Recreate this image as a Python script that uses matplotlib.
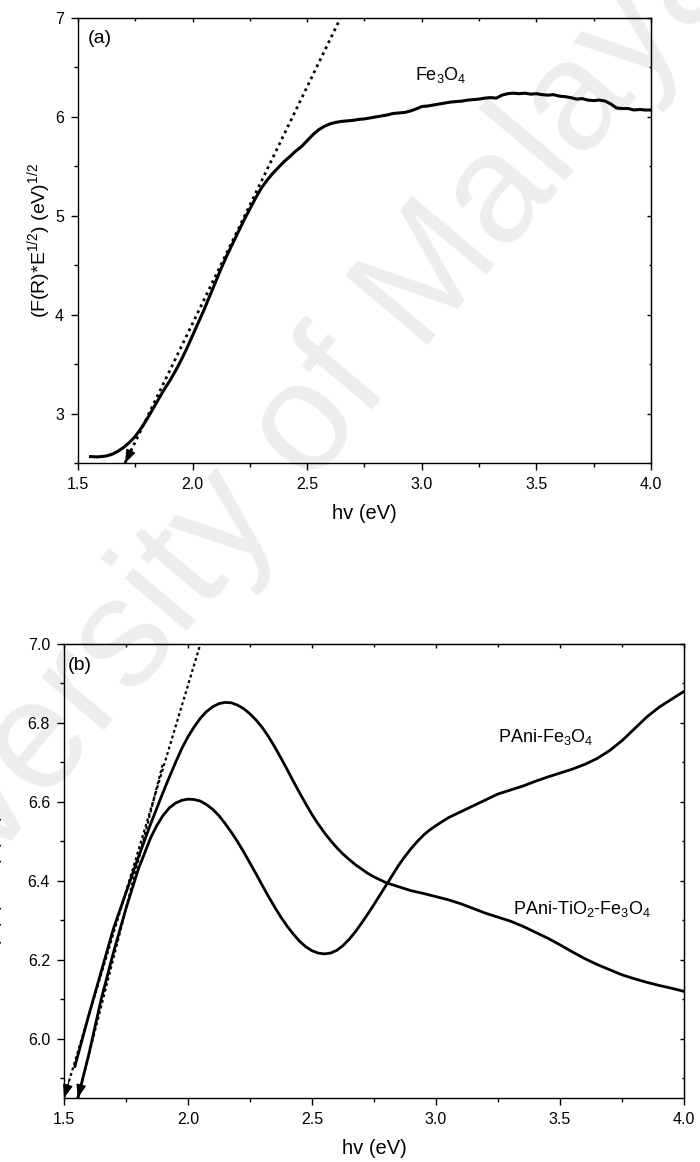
import matplotlib
matplotlib.use('Agg')
import matplotlib.pyplot as plt
from matplotlib.ticker import MultipleLocator, FormatStrFormatter

plt.rcParams['font.family'] = ['Liberation Sans', 'DejaVu Sans']
plt.rcParams['mathtext.fontset'] = 'custom'
plt.rcParams['mathtext.rm'] = 'Liberation Sans'
plt.rcParams['mathtext.it'] = 'Liberation Sans:italic'
plt.rcParams['mathtext.default'] = 'regular'

# (a) Fe3O4 Kubelka-Munk curve
hv_a = [1.555, 1.58, 1.60, 1.625, 1.65, 1.675, 1.70, 1.725, 1.75, 1.775,
        1.80, 1.825, 1.85, 1.875, 1.90, 1.925, 1.95, 1.975, 2.00, 2.025,
        2.05, 2.075, 2.10, 2.125, 2.15, 2.175, 2.20, 2.225, 2.25, 2.275,
        2.30, 2.325, 2.35, 2.375, 2.40, 2.425, 2.45, 2.475, 2.50, 2.525,
        2.55, 2.575, 2.60, 2.625, 2.65, 2.675, 2.70, 2.725, 2.75, 2.775,
        2.80, 2.825, 2.85, 2.875, 2.90, 2.925, 2.95, 2.975, 3.00, 3.025,
        3.05, 3.075, 3.10, 3.125, 3.15, 3.175, 3.20, 3.225, 3.25, 3.275,
        3.30, 3.325, 3.35, 3.375, 3.40, 3.425, 3.45, 3.475, 3.50, 3.525,
        3.55, 3.575, 3.60, 3.625, 3.65, 3.675, 3.70, 3.725, 3.75, 3.775,
        3.80, 3.825, 3.85, 3.875, 3.90, 3.925, 3.95, 3.975, 4.00]
fe3o4 = [2.566, 2.562, 2.565, 2.572, 2.59, 2.62, 2.66, 2.71, 2.77, 2.85,
         2.94, 3.04, 3.14, 3.24, 3.33, 3.43, 3.54, 3.66, 3.79, 3.92,
         4.05, 4.19, 4.33, 4.47, 4.60, 4.72, 4.84, 4.96, 5.07, 5.18,
         5.28, 5.36, 5.43, 5.49, 5.55, 5.60, 5.655, 5.70, 5.76, 5.82,
         5.87, 5.905, 5.93, 5.945, 5.955, 5.96, 5.965, 5.975, 5.98, 5.99,
         6.00, 6.01, 6.02, 6.035, 6.04, 6.045, 6.06, 6.08, 6.105, 6.11,
         6.12, 6.13, 6.14, 6.15, 6.155, 6.16, 6.17, 6.175, 6.18, 6.19,
         6.195, 6.19, 6.22, 6.235, 6.24, 6.235, 6.24, 6.23, 6.235, 6.225,
         6.22, 6.225, 6.21, 6.205, 6.195, 6.18, 6.185, 6.17, 6.165, 6.17,
         6.16, 6.13, 6.09, 6.085, 6.085, 6.07, 6.075, 6.07, 6.07]
tangent_a_x = [1.705, 2.645]
tangent_a_y = [2.5, 7.0]

# (b) composite curves
hv_b1 = [1.544, 1.60, 1.65, 1.70, 1.75, 1.80, 1.85, 1.875, 1.90, 1.925,
         1.95, 1.975, 2.00, 2.025, 2.05, 2.075, 2.10, 2.125, 2.15, 2.175,
         2.20, 2.225, 2.25, 2.275, 2.30, 2.325, 2.35, 2.375, 2.40, 2.425,
         2.45, 2.475, 2.50, 2.525, 2.55, 2.575, 2.60, 2.625, 2.65, 2.675,
         2.70, 2.725, 2.75, 2.80, 2.85, 2.90, 2.95, 3.00, 3.05, 3.10,
         3.15, 3.20, 3.25, 3.30, 3.35, 3.40, 3.45, 3.50, 3.55, 3.60,
         3.65, 3.70, 3.75, 3.80, 3.85, 3.90, 3.95, 4.00]
pani_tio2_fe3o4 = [5.93, 6.06, 6.17, 6.28, 6.37, 6.46, 6.545, 6.585, 6.625, 6.663,
                   6.70, 6.735, 6.765, 6.79, 6.812, 6.829, 6.841, 6.849, 6.852, 6.851,
                   6.845, 6.836, 6.823, 6.807, 6.788, 6.765, 6.739, 6.711, 6.682, 6.652,
                   6.623, 6.595, 6.568, 6.544, 6.522, 6.502, 6.484, 6.468, 6.454, 6.441,
                   6.430, 6.419, 6.410, 6.395, 6.385, 6.375, 6.368, 6.36, 6.352, 6.342,
                   6.33, 6.318, 6.308, 6.298, 6.285, 6.27, 6.255, 6.238, 6.22, 6.203,
                   6.188, 6.175, 6.162, 6.152, 6.143, 6.135, 6.128, 6.12]

hv_b2 = [1.556, 1.60, 1.65, 1.70, 1.75, 1.80, 1.85, 1.875, 1.90, 1.925,
         1.95, 1.975, 2.00, 2.025, 2.05, 2.075, 2.10, 2.125, 2.15, 2.175,
         2.20, 2.225, 2.25, 2.275, 2.30, 2.325, 2.35, 2.375, 2.40, 2.425,
         2.45, 2.475, 2.50, 2.525, 2.55, 2.575, 2.60, 2.625, 2.65, 2.675,
         2.70, 2.725, 2.75, 2.775, 2.80, 2.825, 2.85, 2.875, 2.90, 2.925,
         2.95, 2.975, 3.00, 3.05, 3.10, 3.15, 3.20, 3.25, 3.30, 3.35,
         3.40, 3.45, 3.50, 3.55, 3.60, 3.65, 3.70, 3.75, 3.80, 3.85,
         3.90, 3.95, 4.00]
pani_fe3o4 = [5.85, 5.96, 6.10, 6.22, 6.33, 6.43, 6.51, 6.541, 6.566, 6.585,
              6.597, 6.604, 6.607, 6.606, 6.602, 6.593, 6.581, 6.565, 6.545, 6.523,
              6.499, 6.473, 6.445, 6.417, 6.388, 6.360, 6.333, 6.308, 6.285, 6.265,
              6.247, 6.233, 6.223, 6.217, 6.215, 6.217, 6.224, 6.236, 6.252, 6.271,
              6.293, 6.316, 6.340, 6.365, 6.390, 6.415, 6.440, 6.462, 6.482, 6.50,
              6.516, 6.529, 6.540, 6.56, 6.575, 6.59, 6.605, 6.62, 6.63, 6.64,
              6.652, 6.663, 6.673, 6.683, 6.695, 6.71, 6.73, 6.755, 6.785, 6.815,
              6.84, 6.86, 6.88]
tangent_b1_x = [1.50, 2.05]
tangent_b1_y = [5.85, 7.0]
tangent_b2_x = [1.556, 1.90]
tangent_b2_y = [5.85, 6.70]

ylabel_text = r'(F(R)*E$^{1/2}$) (eV)$^{1/2}$'

fig = plt.figure(figsize=(7, 11.62), dpi=100)

# faint background watermark
fig.text(0.374, 0.587, 'University of Malaya', rotation=50, fontsize=112,
         color='#ededed', ha='center', va='center', rotation_mode='anchor',
         zorder=-1)

ax1 = fig.add_axes([0.1114, 0.6015, 0.8186, 0.3830])
ax2 = fig.add_axes([0.0914, 0.0551, 0.8857, 0.3907])


def style_axes(ax, xmajor, xminor, ymajor, yminor, yfmt):
    ax.set_facecolor('none')
    for sp in ax.spines.values():
        sp.set_linewidth(1.0)
    ax.xaxis.set_major_locator(MultipleLocator(xmajor))
    ax.xaxis.set_minor_locator(MultipleLocator(xminor))
    ax.yaxis.set_major_locator(MultipleLocator(ymajor))
    ax.yaxis.set_minor_locator(MultipleLocator(yminor))
    ax.xaxis.set_major_formatter(FormatStrFormatter('%.1f'))
    ax.yaxis.set_major_formatter(FormatStrFormatter(yfmt))
    ax.tick_params(which='both', direction='out', top=False, right=False,
                   width=1.0, labelsize=11.5, pad=5)
    ax.tick_params(which='major', length=5)
    ax.tick_params(which='minor', length=2.7)
    # mirrored inward ticks on top and right
    top = ax.secondary_xaxis('top')
    top.xaxis.set_major_locator(MultipleLocator(xmajor))
    top.xaxis.set_minor_locator(MultipleLocator(xminor))
    top.tick_params(which='both', direction='in', labeltop=False, width=1.0)
    top.tick_params(which='major', length=3)
    top.tick_params(which='minor', length=1.8)
    right = ax.secondary_yaxis('right')
    right.yaxis.set_major_locator(MultipleLocator(ymajor))
    right.yaxis.set_minor_locator(MultipleLocator(yminor))
    right.tick_params(which='both', direction='in', labelright=False, width=1.0)
    right.tick_params(which='major', length=3)
    right.tick_params(which='minor', length=1.8)


def draw_arrow(ax, x0, y0, x1, y1):
    ax.annotate('', xy=(x0, y0), xytext=(x1, y1),
                arrowprops=dict(arrowstyle='-|>,head_length=0.6,head_width=0.22',
                                color='k', lw=0.8, shrinkA=0, shrinkB=0,
                                mutation_scale=14))


# panel (a)
ax1.plot(hv_a, fe3o4, color='k', lw=2.2, solid_joinstyle='round')
ax1.plot(tangent_a_x, tangent_a_y, color='k', lw=2.0, linestyle=(0, (1, 1.4)))
draw_arrow(ax1, tangent_a_x[0], tangent_a_y[0],
           tangent_a_x[0] + 0.03, tangent_a_y[0] + 0.03 * 4.79)
ax1.set_xlim(1.5, 4.0)
ax1.set_ylim(2.5, 7.0)
style_axes(ax1, 0.5, 0.25, 1, 0.5, '%d')
ax1.set_xlabel('hv (eV)', fontsize=14.5)
ax1.set_ylabel(ylabel_text, fontsize=14)
ax1.xaxis.set_label_coords(0.5, -0.092)
ax1.yaxis.set_label_coords(-0.0436, 0.5)
ax1.text(0.0175, 0.973, '(a)', transform=ax1.transAxes, fontsize=14,
         ha='left', va='top')
ax1.text(2.969, 6.374, r'Fe$_3$O$_4$', fontsize=13, ha='left', va='baseline')

# panel (b)
ax2.plot(hv_b1, pani_tio2_fe3o4, color='k', lw=2.0, solid_joinstyle='round')
ax2.plot(hv_b2, pani_fe3o4, color='k', lw=2.0, solid_joinstyle='round')
ax2.plot(tangent_b1_x, tangent_b1_y, color='k', lw=1.6, linestyle=(0, (1.3, 1.3)))
ax2.plot(tangent_b2_x, tangent_b2_y, color='k', lw=1.6, linestyle=(0, (1.3, 1.3)))
draw_arrow(ax2, tangent_b1_x[0], tangent_b1_y[0],
           tangent_b1_x[0] + 0.02, tangent_b1_y[0] + 0.02 * 2.09)
draw_arrow(ax2, tangent_b2_x[0], tangent_b2_y[0],
           tangent_b2_x[0] + 0.02, tangent_b2_y[0] + 0.02 * 2.47)
ax2.set_xlim(1.5, 4.0)
ax2.set_ylim(5.85, 7.0)
style_axes(ax2, 0.5, 0.25, 0.2, 0.1, '%.1f')
ax2.set_xlabel('hv (eV)', fontsize=14.5)
ax2.set_ylabel(ylabel_text, fontsize=14)
ax2.xaxis.set_label_coords(0.5, -0.090)
ax2.yaxis.set_label_coords(-0.0935, 0.5)
ax2.text(0.0065, 0.971, '(b)', transform=ax2.transAxes, fontsize=14,
         ha='left', va='top')
ax2.text(3.25, 6.752, r'PAni-Fe$_3$O$_4$', fontsize=13, ha='left', va='baseline')
ax2.text(3.31, 6.316, r'PAni-TiO$_2$-Fe$_3$O$_4$', fontsize=13, ha='left',
         va='baseline')

plt.savefig('out.png', dpi=100)
